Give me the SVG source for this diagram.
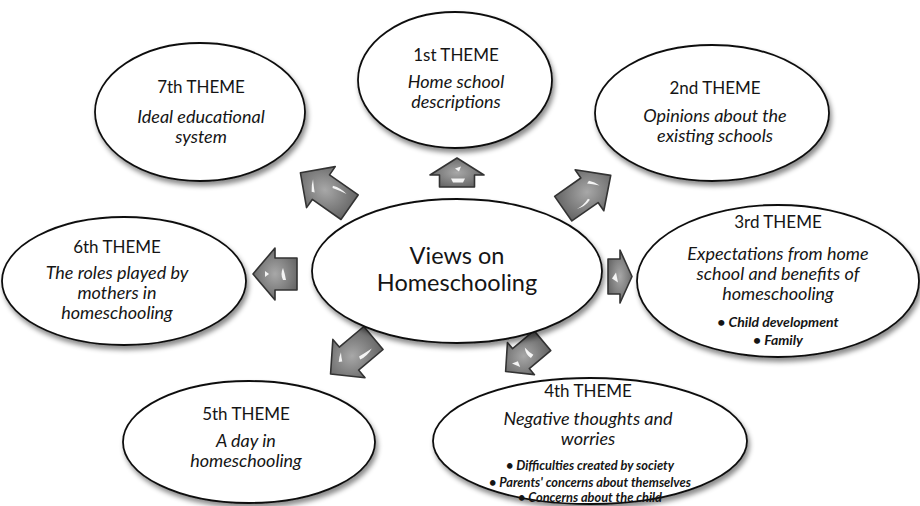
<svg xmlns="http://www.w3.org/2000/svg" width="920" height="506" viewBox="0 0 920 506">
<defs>
<filter id="sh" x="-10%" y="-10%" width="125%" height="130%">
<feDropShadow dx="2" dy="4" stdDeviation="2.5" flood-color="#000" flood-opacity="0.45"/>
</filter>
<radialGradient id="ag" cx="0.5" cy="0.5" r="0.6">
<stop offset="0" stop-color="#a8a8a8"/>
<stop offset="1" stop-color="#606060"/>
</radialGradient>
<style>
.node ellipse{fill:#fff;stroke:#111;stroke-width:1.8;filter:url(#sh)}
text{font-family:Lato,"Open Sans","Liberation Sans",sans-serif;fill:#151515;text-anchor:middle}
.t{font-size:17px}
.d{font-size:18px;font-style:italic}
.b{font-size:12.8px;font-style:italic;font-weight:bold}
.b3{font-size:14px;font-style:italic;font-weight:bold}
.c{font-size:23.5px}
.arr path.body{fill:url(#ag);stroke:#333;stroke-width:1.6;stroke-linejoin:round}
.arr path.hl{fill:#fff;stroke:none;opacity:0.9}
</style>
</defs>
<rect width="920" height="506" fill="#fff"/>

<g id="connectors" class="arr">
<g id="a1" transform="translate(457,172.5)">
<path class="body" d="M0,-14.5 L27,2.5 L17.5,2.5 L17.5,14.5 L-17.5,14.5 L-17.5,2.5 L-27,2.5 Z"/>
<path class="hl" d="M-6,6 L8,6 L6,10 L-4,10 Z"/>
<path class="hl" d="M-2,-4 L4,-6 L2,-1 Z"/>
</g>
<g id="a2" transform="translate(587,192) rotate(55)">
<path class="body" d="M0,-29 L25,-3 L15,-3 L15,29 L-15,29 L-15,-3 L-25,-3 Z"/>
<path class="hl" d="M8,2 Q11,10 8,18 Q9,10 6,3 Z"/>
<path class="hl" d="M-8,-8 Q-4,-12 2,-14 Q-4,-9 -7,-5 Z"/>
</g>
<g id="a3" transform="translate(620,276.5) rotate(90)">
<path class="body" d="M0,-12 L26.5,0 L17.5,0 L17.5,12 L-17.5,12 L-17.5,0 L-26.5,0 Z"/>
<path class="hl" d="M-4,4 L6,2 L2,8 Z"/>
</g>
<g id="a4" transform="translate(524,356) rotate(-130)">
<path class="body" d="M0,-24 L21,-4 L13,-4 L13,24 L-13,24 L-13,-4 L-21,-4 Z"/>
<path class="hl" d="M-6,4 Q0,2 6,6 Q0,6 -5,8 Z"/>
<path class="hl" d="M-6,-10 L2,-14 L0,-8 Z"/>
</g>
<g id="a5" transform="translate(352,356) rotate(-130)">
<path class="body" d="M0,-28 L25,-4 L15,-4 L15,28 L-15,28 L-15,-4 L-25,-4 Z"/>
<path class="hl" d="M-8,4 Q-10,12 -7,20 Q-6,12 -5,5 Z"/>
<path class="hl" d="M4,-14 Q8,-10 10,-6 Q6,-9 2,-11 Z"/>
</g>
<g id="a6" transform="translate(275,274) rotate(-90)">
<path class="body" d="M0,-22 L26,0 L16,0 L16,22 L-16,22 L-16,0 L-26,0 Z"/>
<path class="hl" d="M-6,8 Q0,5 6,8 Q0,10 -6,11 Z"/>
<path class="hl" d="M-3,-10 L3,-10 L0,-6 Z"/>
</g>
<g id="a7" transform="translate(325,190) rotate(-55)">
<path class="body" d="M0,-30 L25,-5 L15,-5 L15,30 L-15,30 L-15,-5 L-25,-5 Z"/>
<path class="hl" d="M8,4 Q11,12 9,20 Q8,12 6,5 Z"/>
<path class="hl" d="M-9,-10 Q-4,-14 2,-16 Q-4,-11 -8,-7 Z"/>
</g>
</g>

<g id="center" class="node">
<ellipse cx="457" cy="271" rx="145" ry="72"/>
<text class="c" x="457" y="264">Views on</text>
<text class="c" x="457" y="291">Homeschooling</text>
</g>

<g id="theme1" class="node">
<ellipse cx="455" cy="80" rx="97" ry="68"/>
<text class="t" x="456" y="61">1st THEME</text>
<text class="d" x="456" y="88">Home school</text>
<text class="d" x="456" y="108">descriptions</text>
</g>

<g id="theme2" class="node">
<ellipse cx="712" cy="113" rx="117" ry="68"/>
<text class="t" x="715" y="94">2nd THEME</text>
<text class="d" x="715" y="122">Opinions about the</text>
<text class="d" x="715" y="142">existing schools</text>
</g>

<g id="theme3" class="node">
<ellipse cx="778" cy="281" rx="141" ry="76"/>
<text class="t" x="778" y="228">3rd THEME</text>
<text class="d" x="778" y="260">Expectations from home</text>
<text class="d" x="778" y="280">school and benefits of</text>
<text class="d" x="778" y="300">homeschooling</text>
<text class="b3" x="778" y="327">• Child development</text>
<text class="b3" x="778" y="345">• Family</text>
</g>

<g id="theme4" class="node">
<ellipse cx="590" cy="441" rx="157" ry="63"/>
<text class="t" x="588" y="397">4th THEME</text>
<text class="d" x="588" y="425">Negative thoughts and</text>
<text class="d" x="588" y="445">worries</text>
<text class="b" x="590" y="470">• Difficulties created by society</text>
<text class="b" x="590" y="486.5">• Parents' concerns about themselves</text>
<text class="b" x="590" y="502">• Concerns about the child</text>
</g>

<g id="theme5" class="node">
<ellipse cx="249" cy="442" rx="126" ry="61"/>
<text class="t" x="246" y="420">5th THEME</text>
<text class="d" x="246" y="447">A day in</text>
<text class="d" x="246" y="467">homeschooling</text>
</g>

<g id="theme6" class="node">
<ellipse cx="124" cy="281" rx="122" ry="64"/>
<text class="t" x="117" y="253">6th THEME</text>
<text class="d" x="117" y="279">The roles played by</text>
<text class="d" x="117" y="299">mothers in</text>
<text class="d" x="117" y="319">homeschooling</text>
</g>

<g id="theme7" class="node">
<ellipse cx="200" cy="112" rx="105" ry="69"/>
<text class="t" x="201" y="93">7th THEME</text>
<text class="d" x="201" y="123">Ideal educational</text>
<text class="d" x="201" y="143">system</text>
</g>
</svg>
